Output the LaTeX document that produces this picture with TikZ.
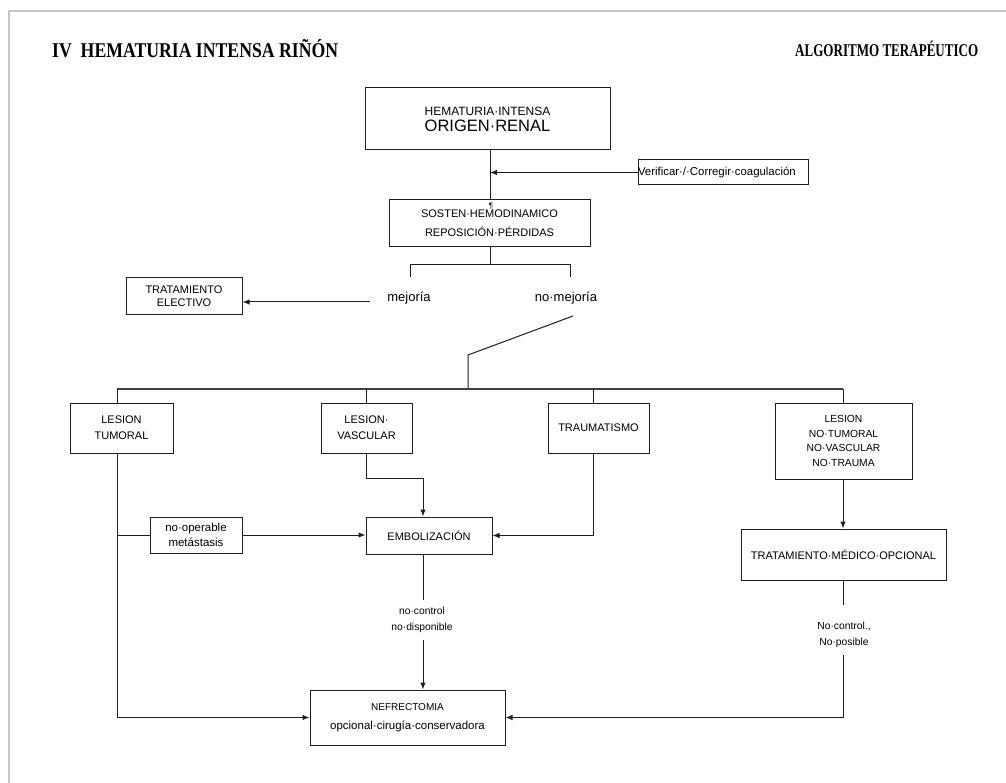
\documentclass[tikz,border=0pt]{standalone}
\usepackage{fontspec}
\usepackage{graphicx}
\usetikzlibrary{arrows.meta,calc}
\newfontfamily\afont{Liberation Sans}
\newfontfamily\tfont{Liberation Serif}
\newcommand\fs[1]{\fontsize{#1}{#1}\selectfont}
\begin{document}
\begin{tikzpicture}[x=1pt,y=-1pt,
  every node/.style={inner sep=0pt, text=black},
  box/.style={draw=black!88, line width=1pt, align=center,
    font=\afont\fontsize{11}{13}\selectfont},
  lbl/.style={align=center, font=\afont\fontsize{10.3}{16}\selectfont},
  ln/.style={draw=black!88, line width=1pt},
  arr/.style={ln, -{Latex[length=7pt,width=5.5pt]}},
  frame/.style={draw=black!22, line width=1.6pt}]

\useasboundingbox (0,0) rectangle (1006,783);
\fill[white] (0,0) rectangle (1006,783);
\draw[frame] (1006,11) -- (9,11) -- (9,783);

% headings
\node[anchor=base west] (title) at (52,57.5)
  {\resizebox{286pt}{\height}{\tfont\bfseries\fontsize{21}{21}\selectfont IV\ \ HEMATURIA INTENSA RIÑÓN}};
\node[anchor=base west] (subtitle) at (795,56.5)
  {\resizebox{183pt}{\height}{\tfont\bfseries\fontsize{18}{18}\selectfont ALGORITMO TERAPÉUTICO}};

% boxes
\node[box, minimum width=245pt, minimum height=62pt] (hem) at (487.5,119)
  {{\fs{12}HEMATURIA·INTENSA}\\[3pt]{\fs{16.5}ORIGEN·RENAL}};
\node[box, minimum width=170pt, minimum height=25pt, text width=170pt, align=left] (verif) at (723,172.5)
  {\fs{11.4}Verificar·/·Corregir·coagulación};
\node[box, minimum width=201pt, minimum height=47pt] (sost) at (489.5,223.5)
  {SOSTEN·HEMODINAMICO\\[6pt]REPOSICIÓN·PÉRDIDAS};
\node[box, minimum width=116pt, minimum height=37pt] (elect) at (184,296.5)
  {TRATAMIENTO\\ELECTIVO};
\node[box, minimum width=103pt, minimum height=50pt] (tum) at (121.5,428)
  {LESION\\[3pt]TUMORAL};
\node[box, minimum width=91pt, minimum height=50pt] (vasc) at (366.5,428)
  {LESION·\\[3pt]VASCULAR};
\node[box, minimum width=101pt, minimum height=50pt] (trau) at (598.5,428)
  {TRAUMATISMO};
\node[box, minimum width=137pt, minimum height=76pt, font=\afont\fontsize{10.3}{14.5}\selectfont] (nontum) at (843.5,441)
  {LESION\\NO·TUMORAL\\NO·VASCULAR\\NO·TRAUMA};
\node[box, minimum width=92pt, minimum height=36pt, font=\afont\fontsize{11.5}{15}\selectfont] (noop) at (196,535)
  {no·operable\\metástasis};
\node[box, minimum width=126pt, minimum height=37pt] (embo) at (429,535.5)
  {EMBOLIZACIÓN};
\node[box, minimum width=205pt, minimum height=51pt] (medic) at (843.5,554.5)
  {TRATAMIENTO·MÉDICO·OPCIONAL};
\node[box, minimum width=195pt, minimum height=55pt] (nefr) at (407.5,717.5)
  {{\fs{10}NEFRECTOMIA}\\[6pt]{\fs{11.5}opcional·cirugía·conservadora}};

% branch labels
\node[lbl, font=\afont\fontsize{13}{16}\selectfont] (mej) at (409,298) {mejoría};
\node[lbl, font=\afont\fontsize{13}{16}\selectfont] (nomej) at (566,298) {no·mejoría};
\node[lbl] (ctrl1) at (422,620) {no·control\\no·disponible};
\node[lbl] (ctrl2) at (844,635) {No·control.,\\No·posible};
\node[font=\afont\fontsize{8}{8}\selectfont] (pilcrow) at (491,206) {¶};

% junction points
\coordinate (stem) at (490,265);
\coordinate (brL) at (410,277);
\coordinate (brR) at (570,277);
\coordinate (mejStart) at (370,302);
\coordinate (diagA) at (573,316);
\coordinate (diagB) at (468,355);
\coordinate (hub) at (468,389);
\coordinate (busL) at (117,389);
\coordinate (busR) at (843,389);
\coordinate (xv) at (366,389);
\coordinate (xt) at (593,389);
\coordinate (xe) at (423,0);
\coordinate (bendV) at (366,478);
\coordinate (embStop) at (423,600);
\coordinate (embGo) at (423,640);
\coordinate (medStop) at (843,605);
\coordinate (medGo) at (843,655);

% top chain
\draw[ln] (stem |- hem.south) -- (stem |- sost.north);
\draw[arr] (verif.west) -- (verif.west -| stem);
\draw[ln] (stem |- sost.south) -- (stem);
\draw[ln] (brL) -- (brL |- stem) -- (brR |- stem) -- (brR);
\draw[arr] (mejStart) -- (mejStart -| elect.east);
\draw[ln] (diagA) -- (diagB) -- (hub);

% distribution bus
\draw[draw=black!75, line width=1.8pt] (busL) -- (busR);
\draw[ln] (busL) -- (busL |- tum.north);
\draw[ln] (xv) -- (xv |- vasc.north);
\draw[ln] (xt) -- (xt |- trau.north);
\draw[ln] (busR) -- (busR |- nontum.north);

% tumoral branch
\draw[arr] (busL |- tum.south) -- (busL |- nefr.west) -- (nefr.west);
\draw[ln] (busL |- noop.west) -- (noop.west);
\draw[arr] (noop.east) -- (noop.east -| embo.west);

% vascular and trauma into embolization
\draw[arr] (xv |- vasc.south) -- (bendV) -- (bendV -| xe) -- (xe |- embo.north);
\draw[arr] (xt |- trau.south) -- (xt |- embo.east) -- (embo.east);

% embolization to nephrectomy
\draw[ln] (xe |- embo.south) -- (embStop);
\draw[arr] (embGo) -- (xe |- nefr.north);

% non-tumoral branch
\draw[arr] (busR |- nontum.south) -- (busR |- medic.north);
\draw[ln] (busR |- medic.south) -- (medStop);
\draw[arr] (medGo) -- (medGo |- nefr.east) -- (nefr.east);
\end{tikzpicture}
\end{document}
